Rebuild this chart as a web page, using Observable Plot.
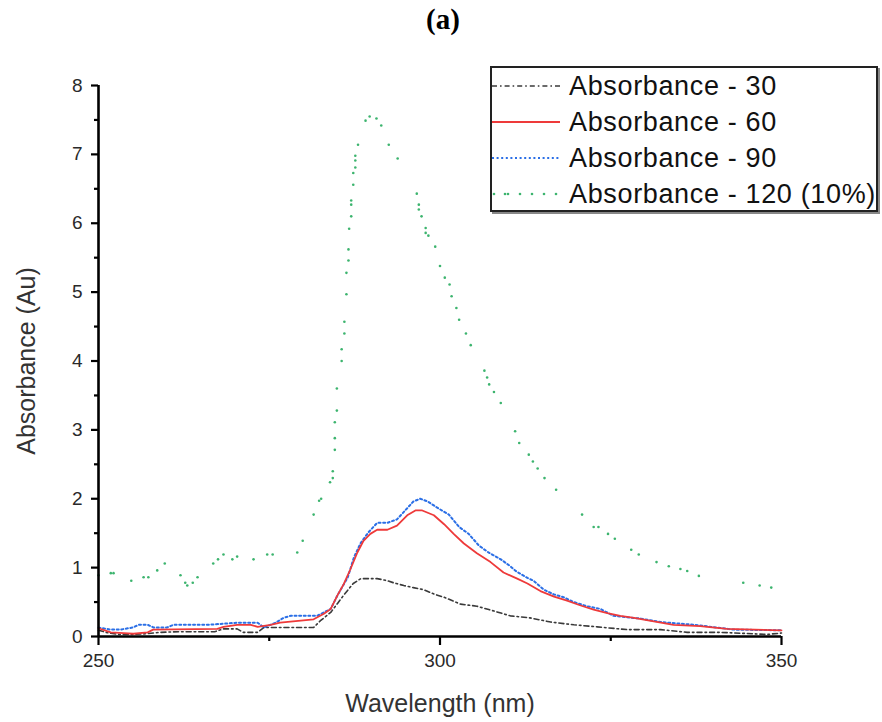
<!DOCTYPE html>
<html>
<head>
<meta charset="utf-8">
<script src="https://cdn.jsdelivr.net/npm/d3@7"></script>
<script src="https://cdn.jsdelivr.net/npm/@observablehq/plot@0.6"></script>
<style>
  body { margin: 0; background: #fff; }
  #wrap { position: relative; width: 882px; height: 722px; overflow: hidden; }
  #title { position: absolute; left: 0; top: 3px; width: 886px; text-align: center;
           font: bold 29px "Liberation Serif", "Times New Roman", serif; color: #000; }
  #chart { position: absolute; left: 0; top: 44px; }
  #legend { position: absolute; left: 490px; top: 66px; width: 384px; height: 142px;
            border: 2px solid #222; background: #fff; box-shadow: 2px 2px 0 #888;
            font-family: "Liberation Sans", Arial, sans-serif; font-size: 27px; color: #111; }
  .row { position: absolute; left: 0; height: 36px; display: flex; align-items: center; }
  .row svg { width: 68px; height: 10px; margin-right: 9px; }
  .row span { white-space: nowrap; letter-spacing: 0.65px; }
</style>
</head>
<body>
<div id="wrap">
  <div id="title">(a)</div>
  <div id="chart"></div>
  <div id="legend"></div>
</div>
<script>
// ---- Data ----
const seriesNames = ["Absorbance - 30", "Absorbance - 60", "Absorbance - 90", "Absorbance - 120 (10%)"];

const wl30  = [250, 251.5, 253, 255, 257, 259, 262, 267, 268.3, 270.3, 271.2, 273.3, 274.2, 276.2, 281.5, 282.5, 284, 285, 285.9, 287.3, 288.4, 290.8, 292.3, 293.2, 294.7, 296.1, 297.6, 299.3, 300.6, 303.0, 305.4, 307.9, 310.3, 313.2, 316.2, 319.6, 323.0, 327.4, 332.3, 336.2, 341.1, 347.9, 350];
const abs30 = [0.09, 0.05, 0.03, 0.03, 0.04, 0.06, 0.07, 0.07, 0.11, 0.11, 0.06, 0.06, 0.13, 0.13, 0.13, 0.23, 0.35, 0.48, 0.60, 0.77, 0.84, 0.84, 0.81, 0.78, 0.74, 0.71, 0.68, 0.61, 0.57, 0.47, 0.44, 0.37, 0.30, 0.27, 0.21, 0.17, 0.14, 0.10, 0.10, 0.06, 0.06, 0.03, 0.05];

const wl60  = [250, 251.8, 253.7, 255.1, 257.2, 258, 267.4, 268.3, 270.3, 272.3, 273.3, 275.2, 276.6, 281.5, 283, 284, 285, 285.9, 286.9, 287.9, 288.8, 289.8, 290.8, 292.3, 293.7, 295.2, 296.4, 297.4, 299.1, 300.6, 302, 303.5, 305.4, 307.4, 309.3, 311.3, 312.8, 314.7, 316.7, 318.6, 320.6, 322.5, 324.5, 326.4, 328.4, 331.3, 334.2, 338.1, 342, 350];
const abs60 = [0.12, 0.06, 0.05, 0.04, 0.06, 0.10, 0.11, 0.14, 0.17, 0.17, 0.14, 0.17, 0.20, 0.25, 0.33, 0.40, 0.60, 0.76, 0.98, 1.22, 1.39, 1.49, 1.55, 1.55, 1.61, 1.76, 1.83, 1.83, 1.76, 1.63, 1.49, 1.35, 1.21, 1.08, 0.93, 0.84, 0.77, 0.66, 0.58, 0.52, 0.45, 0.39, 0.34, 0.30, 0.27, 0.22, 0.17, 0.15, 0.11, 0.09];

const wl90  = [250, 251.8, 253.2, 255, 255.9, 257.2, 258.1, 260, 261, 263.5, 266, 270.3, 273.3, 274.2, 275.9, 277.1, 278.1, 280.6, 282, 283, 284, 285, 286.5, 287.4, 288.4, 289.5, 290.8, 292.3, 293.7, 294.9, 296.1, 297.1, 298.2, 299.6, 301.3, 302.8, 304.2, 305.7, 307.1, 308.9, 310.3, 311.1, 312.8, 313.7, 315.2, 316.7, 318.1, 319.6, 321.5, 323.5, 325.4, 329.4, 332.3, 337.2, 343, 350];
const abs90 = [0.13, 0.10, 0.10, 0.13, 0.17, 0.17, 0.13, 0.13, 0.17, 0.17, 0.17, 0.20, 0.20, 0.13, 0.20, 0.27, 0.30, 0.30, 0.30, 0.35, 0.40, 0.60, 0.86, 1.15, 1.36, 1.51, 1.65, 1.65, 1.70, 1.83, 1.96, 2.00, 1.96, 1.87, 1.77, 1.59, 1.49, 1.32, 1.22, 1.12, 1.02, 0.95, 0.85, 0.81, 0.68, 0.61, 0.57, 0.50, 0.44, 0.40, 0.30, 0.26, 0.21, 0.17, 0.10, 0.09];

const wl120  = [250, 251.8, 252.2, 254.8, 256.6, 257.3, 258.6, 259.7, 262, 262.7, 263, 263.8, 264.5, 266.8, 267.5, 268.3, 269.6, 270.3, 272.7, 274.7, 275.5, 279.1, 279.9, 281.5, 282.3, 282.6, 283.9, 284.3, 284.3, 284.6, 284.6, 284.6, 284.9, 284.9, 285.6, 285.6, 286.0, 286.0, 286.3, 286.3, 286.6, 286.6, 286.7, 287.0, 287.0, 287.0, 287.3, 287.3, 287.6, 287.6, 287.6, 288.0, 289.1, 289.7, 290.7, 291.4, 292.5, 293.8, 296.6, 296.9, 296.9, 297.3, 297.9, 297.9, 298.3, 299.3, 300.0, 300.7, 301.4, 301.7, 302.4, 302.8, 303.8, 304.5, 306.5, 306.9, 307.2, 307.9, 308.9, 311.0, 311.6, 313.0, 313.6, 314.3, 315.3, 317.0, 320.8, 322.5, 323.2, 324.6, 325.6, 328.0, 329.1, 331.7, 333.5, 335.2, 336.2, 337.9, 344.4, 346.8, 348.5];
const abs120 = [0.89, 0.92, 0.92, 0.81, 0.86, 0.86, 0.96, 1.06, 0.89, 0.78, 0.74, 0.78, 0.86, 1.06, 1.12, 1.19, 1.12, 1.16, 1.12, 1.19, 1.19, 1.22, 1.39, 1.77, 1.97, 2.00, 2.24, 2.30, 2.40, 2.71, 2.88, 3.11, 3.28, 3.60, 4.00, 4.17, 4.40, 4.57, 4.97, 5.28, 5.46, 5.62, 5.92, 6.10, 6.27, 6.33, 6.56, 6.73, 6.81, 6.91, 6.98, 7.14, 7.49, 7.55, 7.52, 7.42, 7.14, 6.94, 6.43, 6.27, 6.20, 6.10, 5.93, 5.86, 5.82, 5.66, 5.38, 5.21, 5.11, 4.94, 4.77, 4.60, 4.40, 4.23, 3.86, 3.76, 3.66, 3.55, 3.39, 2.98, 2.81, 2.64, 2.54, 2.44, 2.30, 2.13, 1.77, 1.59, 1.59, 1.49, 1.42, 1.26, 1.19, 1.08, 1.02, 0.98, 0.95, 0.88, 0.78, 0.74, 0.71];

const xTicks = [250, 300, 350];
const xMinor = [275, 325];
const yTicks = [0, 1, 2, 3, 4, 5, 6, 7, 8];
const yMinor = [0.5, 1.5, 2.5, 3.5, 4.5, 5.5, 6.5, 7.5];

const colors = {c30: "#3a3a3a", c60: "#ee3a3a", c90: "#2b6fe6", c120: "#3cb46e"};

const toRows = (xs, ys) => xs.map((x, i) => ({x, y: ys[i]}));
const d30 = toRows(wl30, abs30), d60 = toRows(wl60, abs60), d90 = toRows(wl90, abs90), d120 = toRows(wl120, abs120);

const chart = Plot.plot({
  width: 882,
  height: 678,
  marginTop: 41,
  marginLeft: 98,
  marginRight: 101,
  marginBottom: 86,
  x: {domain: [250, 350]},
  y: {domain: [0, 8]},
  style: {fontFamily: "'Liberation Sans', Arial, sans-serif", fontSize: "19px", color: "#2a2a2a", overflow: "visible", background: "transparent"},
  marks: [
    Plot.line(d30, {x: "x", y: "y", stroke: colors.c30, strokeWidth: 1.6, strokeDasharray: "5,3,1.6,3"}),
    Plot.line(d90, {x: "x", y: "y", stroke: colors.c90, strokeWidth: 2, strokeDasharray: "2,2.6"}),
    Plot.line(d60, {x: "x", y: "y", stroke: colors.c60, strokeWidth: 1.8}),
    Plot.dot(d120, {x: "x", y: "y", r: 1.3, fill: colors.c120, stroke: null}),
    Plot.axisX({ticks: xTicks, tickSize: 9, tickPadding: 8, stroke: "#000", strokeWidth: 2.2, label: null, tickFormat: d => String(d)}),
    Plot.axisX({ticks: xMinor, tickSize: 5, stroke: "#000", strokeWidth: 2.2, label: null, tickFormat: () => ""}),
    Plot.axisY({ticks: yTicks, tickSize: 7, tickPadding: 9, stroke: "#000", strokeWidth: 2.2, label: null}),
    Plot.axisY({ticks: yMinor, tickSize: 4, stroke: "#000", strokeWidth: 2.2, label: null, tickFormat: () => ""}),
    Plot.ruleX([250], {stroke: "#000", strokeWidth: 2.6}),
    Plot.ruleY([0], {stroke: "#000", strokeWidth: 2.6}),
    Plot.text(["Wavelength (nm)"], {frameAnchor: "bottom", dy: 75, fontSize: 25, fill: "#333", textAnchor: "middle"}),
    Plot.text(["Absorbance (Au)"], {frameAnchor: "left", dx: -72, rotate: -90, fontSize: 25, fill: "#333", textAnchor: "middle"})
  ]
});
document.getElementById("chart").appendChild(chart);

// Legend
const legendStyles = [
  {c: colors.c30, w: 1.6, dash: "5,3,1.6,3", dots: false},
  {c: colors.c60, w: 2, dash: null, dots: false},
  {c: colors.c90, w: 2, dash: "2,2.6", dots: false},
  {c: colors.c120, w: 2, dash: null, dots: true}
];
const legend = document.getElementById("legend");
seriesNames.forEach((name, i) => {
  const s = legendStyles[i];
  const row = document.createElement("div");
  row.className = "row";
  row.style.top = (i * 36) + "px";
  let sample;
  if (s.dots) {
    sample = [2, 13, 16, 28, 40, 52, 64].map(x => `<circle cx="${x}" cy="5" r="1.3" fill="${s.c}"/>`).join("");
  } else {
    sample = `<line x1="0" y1="5" x2="68" y2="5" stroke="${s.c}" stroke-width="${s.w}" ${s.dash ? `stroke-dasharray="${s.dash}"` : ""}/>`;
  }
  row.innerHTML = `<svg viewBox="0 0 68 10">${sample}</svg><span>${name}</span>`;
  legend.appendChild(row);
});
</script>
</body>
</html>
